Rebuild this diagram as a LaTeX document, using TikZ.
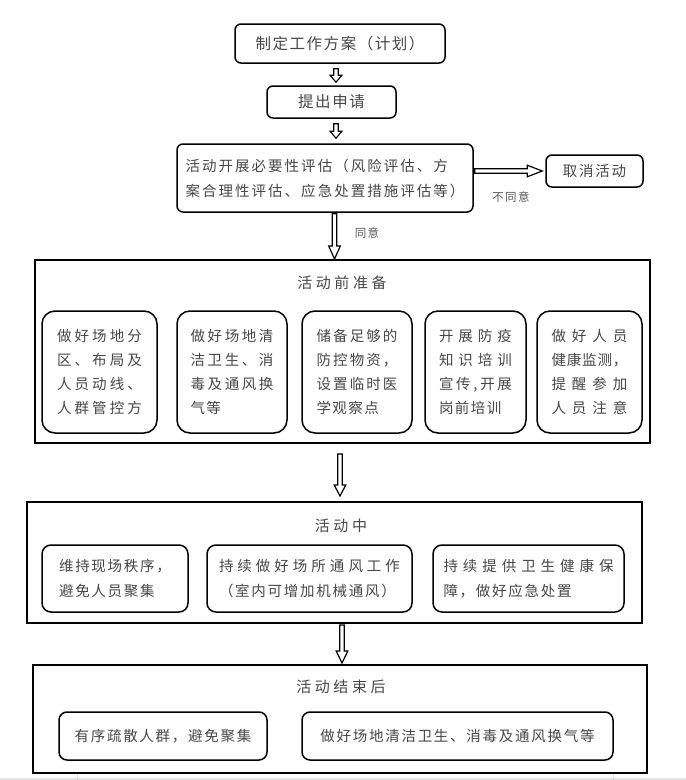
\documentclass[tikz,border=0pt]{standalone}
\usepackage{fontspec}
\setmainfont{Noto Sans CJK SC}
\usetikzlibrary{calc}
\def\spreadchars#1{\spreadfirst#1\relax}
\def\spreadfirst#1{#1\spreadnext}
\def\spreadnext#1{\ifx#1\relax\else\hfill#1\expandafter\spreadnext\fi}
\newcommand\jline[2]{\hbox to #1{\spreadchars{#2}}}
\newcommand\ftop{\fontsize{15.5}{20}\selectfont\addfontfeature{LetterSpace=10}}
\newcommand\feval{\fontsize{14.5}{25}\selectfont\addfontfeature{LetterSpace=14}}
\newcommand\fsub{\fontsize{14.5}{24}\selectfont\addfontfeature{LetterSpace=10}}
\newcommand\fmid{\fontsize{14.5}{25}\selectfont\addfontfeature{LetterSpace=12}}
\newcommand\ftitle{\fontsize{15}{20}\selectfont\addfontfeature{LetterSpace=24}}
\newcommand\flbl{\fontsize{11.5}{14}\selectfont\addfontfeature{LetterSpace=12}}
\colorlet{txt}{black!72}
\tikzset{
  gap start/.store in=\gapS, gap end/.store in=\gapE, head len/.store in=\headL,
  gap start=0pt, gap end=0pt, head len=12pt,
  blockdown/.style={draw=black, line width=1.2pt, fill=white, line join=miter,
    to path={let \p1=(\tikztostart), \p2=(\tikztotarget) in
      (\x1-2.3pt,\y1-\gapS) -- (\x1-2.3pt,\y2+\gapE+\headL) -- (\x1-5.8pt,\y2+\gapE+\headL)
      -- (\x1,\y2+\gapE) -- (\x1+5.8pt,\y2+\gapE+\headL) -- (\x1+2.3pt,\y2+\gapE+\headL)
      -- (\x1+2.3pt,\y1-\gapS) -- cycle}},
  blockright/.style={draw=black, line width=1.2pt, fill=white, line join=miter,
    to path={let \p1=(\tikztostart), \p2=(\tikztotarget) in
      (\x1+\gapS,\y1+2.2pt) -- (\x2-\gapE-\headL,\y1+2.2pt) -- (\x2-\gapE-\headL,\y1+5.8pt)
      -- (\x2-\gapE,\y1) -- (\x2-\gapE-\headL,\y1-5.8pt) -- (\x2-\gapE-\headL,\y1-2.2pt)
      -- (\x1+\gapS,\y1-2.2pt) -- cycle}},
  topbox/.style={draw, line width=1.5pt, rounded corners=6pt, inner sep=0pt, text=txt, align=left},
  bigbox/.style={draw, line width=2pt, inner sep=0pt},
  prepsub/.style={draw, line width=1.5pt, rounded corners=13pt, inner sep=0pt, text=txt,
    align=left, font=\fsub, minimum height=122pt},
  midsub/.style={draw, line width=1.5pt, rounded corners=9pt, inner sep=0pt, text=txt,
    align=left, font=\fmid, minimum height=67pt},
  endsub/.style={draw, line width=1.5pt, rounded corners=8pt, inner sep=0pt, text=txt,
    font=\fmid, minimum height=48pt},
  titletext/.style={inner sep=0pt, text=txt, font=\ftitle},
  lbl/.style={inner sep=0pt, text=black!65, font=\flbl}
}
\begin{document}
\begin{tikzpicture}[x=1pt,y=-1pt]
\fill[white] (0,0) rectangle (686,780);
\useasboundingbox (0,0) rectangle (686,780);
\fill[black!10] (0,777.5) rectangle (686,780);
\draw[black!15, line width=0.8pt] (77,773) -- (77,780) (613,773) -- (613,780);

% top chain
\node[topbox, font=\ftop, minimum width=210pt, minimum height=39pt] (plan) at (340,43.5) {制定工作方案（计划）};
\node[topbox, font=\ftop, minimum width=129pt, minimum height=32pt] (apply) at (331.5,102) {提出申请};
\node[topbox, font=\feval, minimum width=296pt, minimum height=68pt] (eval) at (325,178)
  {活动开展必要性评估（风险评估、方\\案合理性评估、应急处置措施评估等）};
\node[topbox, font=\fmid, minimum width=97pt, minimum height=32pt] (cancel) at (594.5,171) {取消活动};
\node[lbl] (disagree) at (511,197) {不同意};
\node[lbl] (agree) at (367,233) {同意};

% before
\node[bigbox, minimum width=615pt, minimum height=183pt] (prep) at (342.5,351.5) {};
\node[titletext] (preptitle) at (342,283) {活动前准备};
\node[prepsub, minimum width=115pt] (p1) at (99.5,372)
  {\jline{85pt}{做好场地分}\\\jline{85pt}{区、布局及}\\\jline{85pt}{人员动线、}\\\jline{85pt}{人群管控方}};
\node[prepsub, minimum width=110pt] (p2) at (232,372)
  {\jline{83pt}{做好场地清}\\\jline{83pt}{洁卫生、消}\\\jline{83pt}{毒及通风换}\\气等};
\node[prepsub, minimum width=110pt] (p3) at (357,372)
  {\jline{81pt}{储备足够的}\\\jline{81pt}{防控物资，}\\\jline{81pt}{设置临时医}\\学观察点};
\node[prepsub, minimum width=101pt] (p4) at (475.5,372)
  {\jline{73pt}{开展防疫}\\\jline{73pt}{知识培训}\\\jline{73pt}{宣传,开展}\\岗前培训};
\node[prepsub, minimum width=105pt] (p5) at (589.5,372)
  {\jline{76pt}{做好人员}\\\jline{76pt}{健康监测，}\\\jline{76pt}{提醒参加}\\\jline{76pt}{人员注意}};

% during
\node[bigbox, minimum width=615pt, minimum height=121pt] (during) at (334.5,562.5) {};
\node[titletext] (duringtitle) at (341,526) {活动中};
\node[midsub, minimum width=146pt] (d1) at (115,578.5) {维持现场秩序，\\避免人员聚集};
\node[midsub, minimum width=205pt] (d2) at (309.5,578.5)
  {\jline{181pt}{持续做好场所通风工作}\\（室内可增加机械通风）};
\node[midsub, minimum width=191pt] (d3) at (528.5,578.5)
  {\jline{170pt}{持续提供卫生健康保}\\障，做好应急处置};

% after
\node[bigbox, minimum width=614pt, minimum height=108pt] (after) at (340,719) {};
\node[titletext] (aftertitle) at (341,687) {活动结束后};
\node[endsub, minimum width=208pt] (a1) at (163,736) {有序疏散人群，避免聚集};
\node[endsub, minimum width=311pt] (a2) at (457.5,736) {做好场地清洁卫生、消毒及通风换气等};

% arrows
\coordinate (ax1) at (336,0);
\coordinate (ax2) at (334.5,0);
\coordinate (ax3) at (340,0);
\coordinate (ax4) at (342,0);
\draw[blockdown, gap start=5pt, gap end=3pt, head len=7pt] (ax1 |- plan.south) to (ax1 |- apply.north);
\draw[blockdown, gap start=5pt, gap end=5pt, head len=7pt] (ax1 |- apply.south) to (ax1 |- eval.north);
\draw[blockdown, gap start=1pt, gap end=0pt, head len=13pt] (ax2 |- eval.south) to (ax2 |- prep.north);
\draw[blockdown, gap start=10pt, gap end=5pt, head len=11pt] (ax3 |- prep.south) to (ax3 |- during.north);
\draw[blockdown, gap start=1pt, gap end=1pt, head len=12pt] (ax4 |- during.south) to (ax4 |- after.north);
\draw[blockright, gap start=1pt, gap end=3pt, head len=15pt] (eval.east |- cancel.west) to (cancel.west);
\end{tikzpicture}
\end{document}
